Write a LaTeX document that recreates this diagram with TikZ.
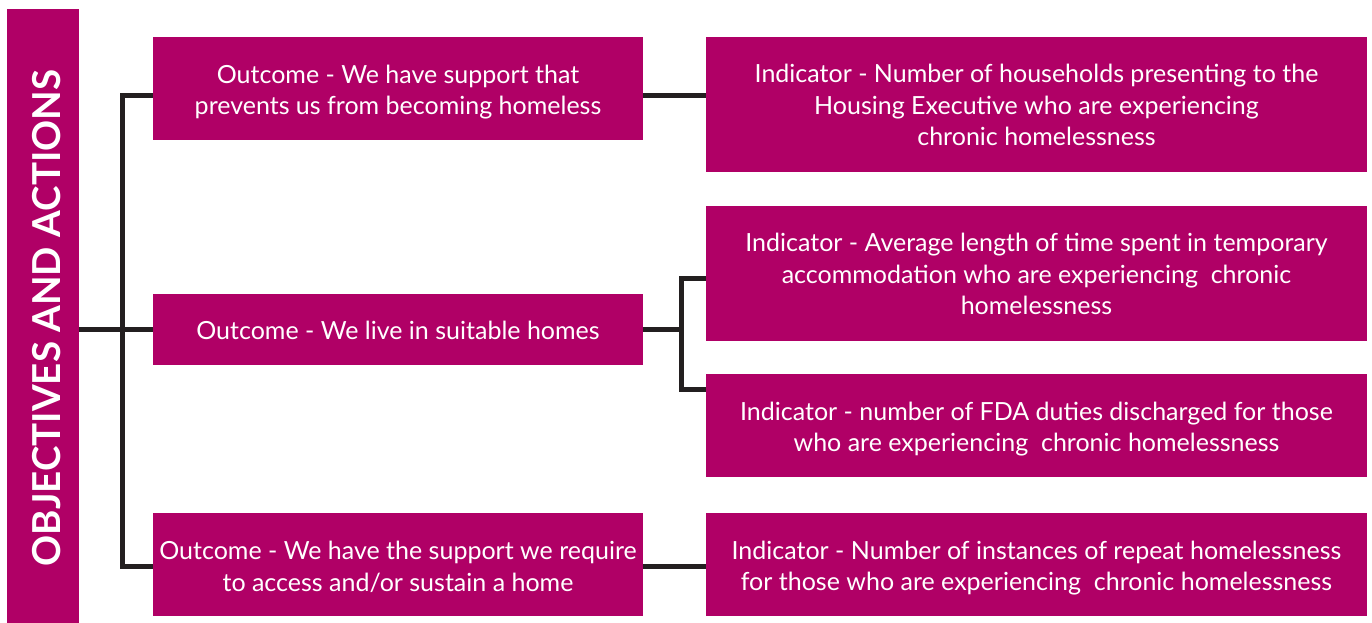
\documentclass[tikz,border=0pt]{standalone}
\usepackage{fontspec}
\setmainfont{Lato}
\definecolor{mag}{HTML}{B00066}
\definecolor{ink}{HTML}{231F20}
\newcommand{\topstrut}[1]{\rule{0pt}{#1pt}}
\begin{document}
\begin{tikzpicture}[x=1pt,y=-1pt,
  box/.style={fill=mag,draw=none,text=white,align=center,inner sep=0pt,
    font=\fontsize{25}{31.5}\selectfont},
  conn/.style={draw=ink,line width=5pt,line join=miter}]
\useasboundingbox (0,0) rectangle (1372,623);
\node[fill=mag,minimum width=72pt,minimum height=614pt,inner sep=0pt] (bar) at (43,316) {};
\node[text=white,rotate=90,inner sep=0pt,font=\fontsize{38.5}{40}\bfseries\selectfont] (bart) at (46.5,318) {OBJECTIVES AND ACTIONS};
\node[box,minimum width=490pt,minimum height=103pt] (o1) at (398,88.5) {\topstrut{26}Outcome - We have support that\\prevents us from becoming homeless};
\node[box,minimum width=490pt,minimum height=71pt] (o2) at (398,329.5) {\topstrut{20}Outcome - We live in suitable homes};
\node[box,minimum width=490pt,minimum height=103pt] (o3) at (398,564.5) {\topstrut{23.5}Outcome - We have the support we require\\to access and/or sustain a home};
\node[box,minimum width=661pt,minimum height=135pt] (i1) at (1036.5,104.5) {\topstrut{20}Indicator - Number of households presenting to the\\Housing Executive who are experiencing\\chronic homelessness};
\node[box,minimum width=661pt,minimum height=135pt] (i2) at (1036.5,273.5) {\topstrut{20}Indicator - Average length of time spent in temporary\\accommodation who are experiencing\ \ chronic\\homelessness};
\node[box,minimum width=661pt,minimum height=103pt] (i3) at (1036.5,425.5) {\topstrut{26}Indicator - number of FDA duties discharged for those\\who are experiencing\ \ chronic homelessness};
\node[box,minimum width=661pt,minimum height=103pt] (i4) at (1036.5,564.5) {\topstrut{26}Indicator - Number of instances of repeat homelessness\\for those who are experiencing\ \ chronic homelessness};
\coordinate (t1) at (122,96);
\coordinate (t3) at (122,566);
\coordinate (fa) at (681,278);
\coordinate (fb) at (681,389);
\draw[conn] (o1.west |- t1) -- (t1) -- (t3) -- (o3.west |- t3);
\draw[conn] (o2.west -| bar.east) -- (o2.west);
\draw[conn] (o1.east |- t1) -- (i1.west |- t1);
\draw[conn] (o2.east) -- (o2.east -| fa);
\draw[conn] (i2.west |- fa) -- (fa) -- (fb) -- (i3.west |- fb);
\draw[conn] (o3.east |- t3) -- (i4.west |- t3);
\end{tikzpicture}
\end{document}
